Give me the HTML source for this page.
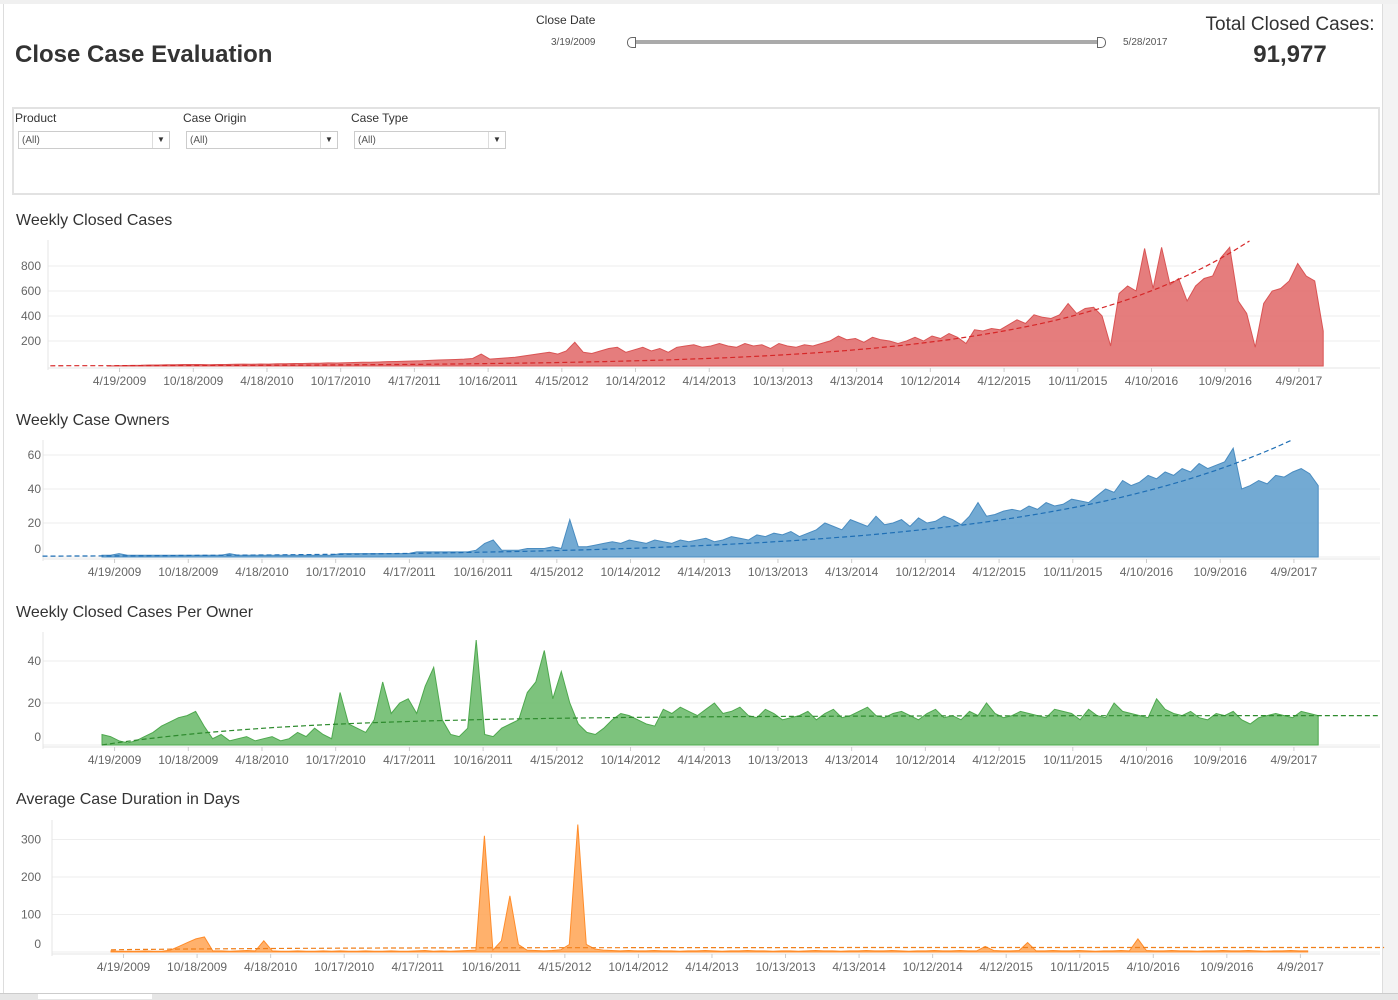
<!DOCTYPE html>
<html><head><meta charset="utf-8">
<style>
html,body{margin:0;padding:0;background:#fff;width:1398px;height:999px;overflow:hidden;font-family:"Liberation Sans",sans-serif;color:#333}
.abs{position:absolute}
.dd{position:absolute;top:131px;width:152px;height:18px;border:1px solid #ccc;font-size:10px;line-height:18px;color:#555;box-sizing:border-box;padding-left:3px}
.dd span{position:absolute;right:0;top:0;width:16px;height:16px;border-left:1px solid #ddd;font-size:8px;text-align:center;line-height:16px;color:#333}
</style></head><body>
<div class="abs" style="left:0;top:0;width:1398px;height:4px;background:#f0f0f0"></div>
<div class="abs" style="left:3px;top:4px;width:1px;height:990px;background:#ddd"></div>
<div class="abs" style="left:1382px;top:4px;width:16px;height:990px;background:#f3f3f3;border-left:1px solid #ddd"></div>
<div class="abs" style="left:0;top:993px;width:1398px;height:6px;background:#e6e6e6;border-top:1px solid #ccc"></div>
<div class="abs" style="left:38px;top:994px;width:114px;height:5px;background:#fff"></div>

<div class="abs" style="left:15px;top:41px;font-size:24px;font-weight:bold;color:#333">Close Case Evaluation</div>
<div class="abs" style="left:536px;top:13px;font-size:12px;color:#333">Close Date</div>
<div class="abs" style="left:551px;top:37px;font-size:10px;color:#555">3/19/2009</div>
<div class="abs" style="left:1123px;top:37px;font-size:10px;color:#555">5/28/2017</div>
<div class="abs" style="left:632px;top:40px;width:468px;height:4px;background:#aaa"></div>
<div class="abs" style="left:627px;top:37px;width:7px;height:9px;border:1px solid #666;border-radius:5px 0 0 5px;background:#fff"></div>
<div class="abs" style="left:1097px;top:37px;width:7px;height:9px;border:1px solid #666;border-radius:0 5px 5px 0;background:#fff"></div>
<div class="abs" style="left:1200px;top:14px;width:180px;text-align:center;font-size:19px;color:#333">Total Closed Cases:</div>
<div class="abs" style="left:1200px;top:41px;width:180px;text-align:center;font-size:24px;font-weight:bold;color:#333">91,977</div>

<div class="abs" style="left:12px;top:107px;width:1368px;height:88px;border:2px solid #e2e2e2;box-sizing:border-box"></div>
<div class="abs" style="left:15px;top:111px;font-size:12px">Product</div>
<div class="abs" style="left:183px;top:111px;font-size:12px">Case Origin</div>
<div class="abs" style="left:351px;top:111px;font-size:12px">Case Type</div>
<div class="dd" style="left:18px">(All)<span>▼</span></div>
<div class="dd" style="left:186px">(All)<span>▼</span></div>
<div class="dd" style="left:354px">(All)<span>▼</span></div>

<svg id="charts" class="abs" style="left:0;top:0" width="1398" height="999"></svg>
<script>
const tickLabels=["4/19/2009","10/18/2009","4/18/2010","10/17/2010","4/17/2011","10/16/2011","4/15/2012","10/14/2012","4/14/2013","10/13/2013","4/13/2014","10/12/2014","4/12/2015","10/11/2015","4/10/2016","10/9/2016","4/9/2017"];
const weekStep=3;
const closedCases=[0,2,3,5,6,8,8,10,10,12,12,12,10,12,12,14,15,14,16,15,18,18,20,20,22,22,25,24,26,28,30,30,32,35,36,38,40,42,45,48,50,52,55,60,95,55,60,65,70,80,90,100,110,95,120,190,110,100,120,140,150,110,130,150,120,140,110,150,160,170,150,160,180,160,150,180,160,170,140,180,160,150,170,160,180,200,240,210,220,190,230,210,200,180,200,230,200,240,220,260,230,180,290,280,300,290,330,370,340,410,390,380,410,500,420,460,470,400,160,580,640,600,940,620,950,650,700,520,640,700,720,870,950,520,420,150,500,600,620,680,820,720,680,280];
const caseOwners=[1,1,2,1,1,1,1,1,1,1,1,1,1,1,1,2,1,1,1,1,1,1,1,1,1,1,1,1,2,2,2,2,2,2,2,2,2,3,3,3,3,3,3,3,4,8,10,4,4,4,5,5,5,6,5,22,6,6,7,8,9,8,10,9,8,10,9,8,10,9,10,11,9,10,12,11,10,13,12,14,13,15,12,14,16,20,18,16,22,20,18,24,19,20,22,18,23,20,21,24,22,19,24,32,24,25,27,28,27,30,28,32,30,31,34,33,32,36,40,38,45,42,44,48,46,50,48,52,50,55,52,54,56,64,40,42,45,43,48,47,50,52,49,42];
const casesPerOwner=[5,4,2,1,2,4,6,9,11,13,14,16,9,3,5,2,3,4,2,3,4,2,3,6,4,8,5,3,25,10,8,6,12,30,15,20,22,15,28,37,12,5,4,8,50,5,4,8,10,12,25,30,45,22,35,20,10,6,5,8,12,15,14,12,10,9,17,15,18,16,14,17,20,15,16,18,14,13,17,15,12,13,14,16,12,15,17,13,14,16,18,14,13,15,16,14,12,15,17,13,14,12,16,14,20,15,13,14,16,15,14,13,17,16,15,12,17,14,13,20,16,15,14,13,22,17,15,14,16,13,12,15,14,16,12,10,13,14,15,14,13,16,15,14];
const avgDuration=[3,2,2,2,3,2,2,5,15,25,35,40,3,3,2,3,4,3,30,3,2,2,3,2,2,3,2,3,2,2,3,2,2,3,2,2,3,4,2,3,2,3,4,5,310,5,30,150,20,5,4,3,4,6,20,340,20,8,5,4,3,4,3,3,4,3,3,2,3,3,4,3,2,3,3,4,3,3,2,3,3,2,3,4,3,3,2,3,3,4,3,3,4,3,2,3,3,4,3,3,4,3,3,15,4,3,3,4,25,3,3,4,3,3,4,3,2,3,3,4,3,35,4,3,3,4,3,3,2,3,3,4,3,3,4,3,2,3,3,4,3,3];
// trend endpoints: [startValue, endValue, startWeek, endWeek]
const trend1=[2,1000,-20,403];
const trend2=[0.5,69,-21,420];
const trend3=[0,14,0,450];
const trend4=[6,12,0,450];

const NS="http://www.w3.org/2000/svg";
const svg=document.getElementById('charts');
function mk(tag,attrs){const e=document.createElementNS(NS,tag);for(const k in attrs)e.setAttribute(k,attrs[k]);svg.appendChild(e);return e;}

function chart(o){
  const xs=w=>o.x0+w*o.ppw;
  const ys=v=>o.base-v*o.ppu;
  const t=mk('text',{x:16,y:o.titleY,'font-size':16,fill:'#333'});
  t.textContent=o.title;
  
  
  o.yticks.forEach(v=>{
    const g=mk('line',{x1:o.axisX,x2:1380,y1:ys(v),y2:ys(v),stroke:'#eee','stroke-width':1});
    
    
    const l=mk('text',{x:41,y:Math.min(ys(v),o.base-8)+4,'font-size':12,fill:'#666','text-anchor':'end'});
    l.textContent=v;
    
    
  });
  const ax=mk('line',{x1:o.axisX,x2:o.axisX,y1:o.top,y2:o.base+4,stroke:'#e4e4e4'});
  
  
  const bx=mk('line',{x1:o.axisX,x2:1380,y1:o.base+2,y2:o.base+2,stroke:'#e4e4e4'});
  
  
  tickLabels.forEach((d,k)=>{
    const x=xs(4.43+26*k);
    const tk=mk('line',{x1:x,x2:x,y1:o.base+2,y2:o.base+6,stroke:'#ccc'});
    
    
    const l=mk('text',{x:x,y:o.base+19,'font-size':12,fill:'#666','text-anchor':'middle'});
    l.textContent=d;
    
    
  });
  let p='M'+xs(0)+','+o.base;
  o.data.forEach((v,i)=>{p+=' L'+xs(i*weekStep).toFixed(1)+','+ys(v).toFixed(1);});
  p+=' L'+xs((o.data.length-1)*weekStep).toFixed(1)+','+o.base+' Z';
  const a=mk('path',{d:p,fill:o.fill,stroke:o.line,'stroke-width':1,'fill-opacity':0.85});
  
  
  const [v0,v1,w0,w1]=o.trend;let tp='';
  for(let s=0;s<=80;s++){const w=w0+(w1-w0)*s/80;
    let v=o.trendType==='exp'?v0*Math.pow(v1/v0,s/80):(v0+(v1-v0)*(1-Math.exp(-s/12))/(1-Math.exp(-80/12)));
    tp+=(s?' L':'M')+xs(w).toFixed(1)+','+ys(v).toFixed(1);}
  const tl=mk('path',{d:tp,fill:'none',stroke:o.trendColor,'stroke-width':1.2,'stroke-dasharray':'5,3'});
  
  
}
chart({title:'Weekly Closed Cases',titleY:225,top:240,base:366,ppu:0.125,yticks:[200,400,600,800],x0:107,ppw:2.835,axisX:48,data:closedCases,fill:'#e06666',line:'#d95454',trend:trend1,trendType:'exp',trendColor:'#d62728',name:'closed-cases'});
chart({title:'Weekly Case Owners',titleY:425,top:440,base:557,ppu:1.7,yticks:[0,20,40,60],x0:102,ppw:2.835,axisX:43,data:caseOwners,fill:'#5b9bcb',line:'#4a8cc0',trend:trend2,trendType:'exp',trendColor:'#1f6fb5',name:'case-owners'});
chart({title:'Weekly Closed Cases Per Owner',titleY:617,top:632,base:745,ppu:2.1,yticks:[0,20,40],x0:102,ppw:2.835,axisX:43,data:casesPerOwner,fill:'#66b866',line:'#4ea84e',trend:trend3,trendType:'log',trendColor:'#2e8b2e',name:'cases-per-owner'});
chart({title:'Average Case Duration in Days',titleY:804,top:820,base:952,ppu:0.375,yticks:[0,100,200,300],x0:111,ppw:2.829,axisX:52,data:avgDuration,fill:'#ffa352',line:'#ff8c2a',trend:trend4,trendType:'log',trendColor:'#f07f1a',name:'avg-duration'});
</script>
</body></html>
